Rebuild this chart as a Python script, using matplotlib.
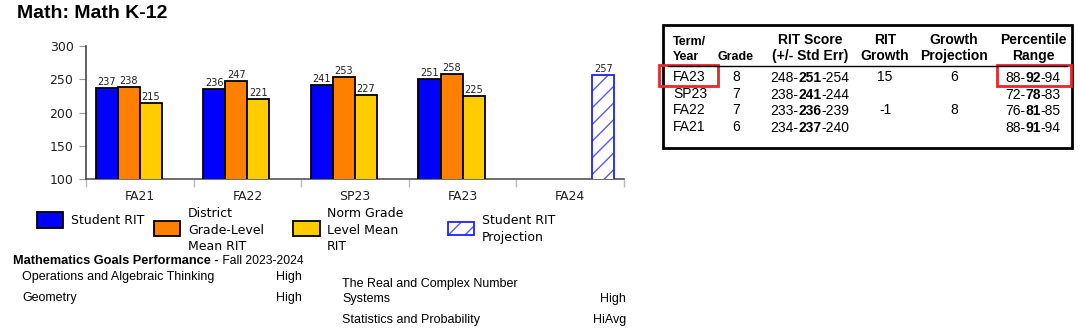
import numpy as np
import matplotlib
matplotlib.use('Agg')
from matplotlib import pyplot as plt
from matplotlib.patches import Rectangle
from matplotlib.lines import Line2D

# chart data
terms = ['FA21', 'FA22', 'SP23', 'FA23', 'FA24']
student_rit = [237, 236, 241, 251, np.nan]
district_mean = [238, 247, 253, 258, np.nan]
norm_mean = [215, 221, 227, 225, np.nan]
projection = [np.nan, np.nan, np.nan, np.nan, 257]

# table data
tbl_terms = ['FA23', 'SP23', 'FA22', 'FA21']
tbl_grades = ['8', '7', '7', '6']
rit_lo = [248, 238, 233, 234]
rit_mid = [251, 241, 236, 237]
rit_hi = [254, 244, 239, 240]
rit_growth = ['15', '', '-1', '']
growth_proj = ['6', '', '8', '']
pct_lo = [88, 72, 76, 88]
pct_mid = [92, 78, 81, 91]
pct_hi = [94, 83, 85, 94]

# goals
goals_left = ['Operations and Algebraic Thinking', 'Geometry']
levels_left = ['High', 'High']
goals_right = ['The Real and Complex Number\nSystems', 'Statistics and Probability']
levels_right = ['High', 'HiAvg']

W, H = 1080, 336
fig = plt.figure(figsize=(W / 100, H / 100), dpi=100)
plt.rcParams['hatch.linewidth'] = 1.0

def px(x, y):
    return x / W, 1 - y / H

ARIAL = 'Liberation Sans'
DV = 'DejaVu Sans'
PROJ_EDGE = '#2020ff'
PROJ_HATCH = '#5a5aff'

fig.text(*px(17, 13), 'Math: Math K-12', fontsize=14, fontweight='bold',
         family=ARIAL, va='center', ha='left')

# --- bar chart
ax = fig.add_axes([86 / W, 1 - 179 / H, (624 - 86) / W, (179 - 46) / H])
x = np.arange(len(terms))
w = 0.205
colors = ['#0000ff', '#ff8000', '#ffcc00']
series = [student_rit, district_mean, norm_mean]
for k, (vals, c) in enumerate(zip(series, colors)):
    pos = x + (k - 1.5) * w
    ax.bar(pos, vals, w, color=c, edgecolor='black', linewidth=1.3, zorder=3)
    for p, v in zip(pos, vals):
        if not np.isnan(v):
            ax.text(p, v + 1.5, str(int(v)), ha='center', va='bottom', fontsize=7,
                    family=DV, color='#222222')

# projection: hatch layer then a clean blue outline on top
pos = x + 1.5 * w
ax.bar(pos, projection, w, color='white', edgecolor=PROJ_HATCH, hatch='//',
       linewidth=0, zorder=3)
ax.bar(pos, projection, w, color='none', edgecolor=PROJ_EDGE, linewidth=1.3, zorder=4)
for p, v in zip(pos, projection):
    if not np.isnan(v):
        ax.text(p, v + 1.5, str(int(v)), ha='center', va='bottom', fontsize=7,
                family=DV, color='#222222')

ax.set_xlim(-0.5, len(terms) - 0.5)
ax.set_ylim(100, 300)
ax.set_yticks([100, 150, 200, 250, 300])
ax.set_xticks(x)
ax.set_xticklabels(terms)
ax.set_xticks(np.arange(len(terms) + 1) - 0.5, minor=True)
ax.tick_params(axis='x', which='major', length=0, pad=8, labelsize=9)
ax.tick_params(axis='x', which='minor', length=6, color='#bbbbbb', width=1)
ax.tick_params(axis='y', length=5, color='#999999', labelsize=9, pad=4)
for lab in ax.get_xticklabels() + ax.get_yticklabels():
    lab.set_family(DV)
    lab.set_color('#222222')
ax.spines['top'].set_visible(False)
ax.spines['right'].set_visible(False)
ax.spines['left'].set_color('#444444')
ax.spines['bottom'].set_color('#555555')
ax.spines['left'].set_linewidth(1.2)
ax.spines['bottom'].set_linewidth(1.2)

# --- legend
def legend_patch(x0, y0, x1, y1, fc, ec, hatch=None, lw=1.3):
    fig.patches.append(Rectangle(px(x0, y1), (x1 - x0) / W, (y1 - y0) / H,
                                 transform=fig.transFigure, facecolor=fc, edgecolor=ec,
                                 linewidth=lw, hatch=hatch))

legend_patch(37, 212, 63, 228, colors[0], 'black')
fig.text(*px(71, 220), 'Student RIT', fontsize=9, family=DV, va='center')
legend_patch(154, 221, 180, 236, colors[1], 'black')
fig.text(*px(188, 230), 'District\nGrade-Level\nMean RIT', fontsize=9, family=DV,
         va='center', linespacing=1.38)
legend_patch(293, 221, 320, 236, colors[2], 'black')
fig.text(*px(327, 230), 'Norm Grade\nLevel Mean\nRIT', fontsize=9, family=DV,
         va='center', linespacing=1.38)
legend_patch(448, 222, 474, 235, 'white', PROJ_HATCH, hatch='//', lw=0)
legend_patch(448, 222, 474, 235, 'none', PROJ_EDGE)
fig.text(*px(482, 229), 'Student RIT\nProjection', fontsize=9, family=DV,
         va='center', linespacing=1.38)

# --- goals
hdr = fig.text(*px(13, 261), 'Mathematics Goals Performance -', fontsize=9.2,
               fontweight='bold', family=ARIAL, va='center')
ax.annotate(' Fall 2023-2024', xy=(1, 0), xycoords=hdr, fontsize=8.7, family=ARIAL,
            va='bottom', ha='left', annotation_clip=False)
for i, (g, lv) in enumerate(zip(goals_left, levels_left)):
    yy = 277 + i * 20.5
    fig.text(*px(22, yy), g, fontsize=9, family=ARIAL, va='center')
    fig.text(*px(302, yy), lv, fontsize=9, family=ARIAL, va='center', ha='right')
right_y = [[284, 299], [320]]
for i, (g, lv) in enumerate(zip(goals_right, levels_right)):
    ys = right_y[i]
    for ln, yy in zip(g.split('\n'), ys):
        fig.text(*px(342, yy), ln, fontsize=9, family=ARIAL, va='center')
    fig.text(*px(626, ys[-1]), lv, fontsize=9, family=ARIAL, va='center', ha='right')

# --- table
fig.patches.append(Rectangle(px(663, 148), (1072 - 663) / W, (148 - 25) / H,
                             transform=fig.transFigure, facecolor='none',
                             edgecolor='black', linewidth=2))
fig.lines.append(Line2D([668 / W, 1067 / W], [1 - 66 / H] * 2, transform=fig.transFigure,
                        color='black', linewidth=1))

fig.text(*px(673, 42), 'Term/', fontsize=9, fontweight='bold', family=ARIAL, va='center')
fig.text(*px(673, 57), 'Year', fontsize=9, fontweight='bold', family=ARIAL, va='center')
fig.text(*px(736, 57), 'Grade', fontsize=9, fontweight='bold', family=ARIAL,
         va='center', ha='center')
col_x = [810, 885, 954, 1033]
heads = [('RIT Score', '(+/- Std Err)'), ('RIT', 'Growth'),
         ('Growth', 'Projection'), ('Percentile', 'Range')]
for cx, (h1, h2) in zip(col_x, heads):
    fig.text(*px(cx, 40), h1, fontsize=10, fontweight='bold', family=ARIAL,
             va='center', ha='center')
    fig.text(*px(cx, 56), h2, fontsize=10, fontweight='bold', family=ARIAL,
             va='center', ha='center')

def split_val(cx, yy, lo, mid, hi):
    m = fig.text(*px(cx, yy), str(mid), fontsize=10, fontweight='bold', family=ARIAL,
                 va='baseline', ha='center')
    ax.annotate(f'{lo}-', xy=(0, 0), xycoords=m, fontsize=10, family=ARIAL,
                va='bottom', ha='right', annotation_clip=False)
    ax.annotate(f'-{hi}', xy=(1, 0), xycoords=m, fontsize=10, family=ARIAL,
                va='bottom', ha='left', annotation_clip=False)

for i in range(len(tbl_terms)):
    yy = 77 + i * 16.7
    base = yy + 5
    fig.text(*px(673, yy), tbl_terms[i], fontsize=10, family=ARIAL, va='center')
    fig.text(*px(736, yy), tbl_grades[i], fontsize=10, family=ARIAL, va='center', ha='center')
    split_val(col_x[0], base, rit_lo[i], rit_mid[i], rit_hi[i])
    fig.text(*px(col_x[1], yy), rit_growth[i], fontsize=10, family=ARIAL, va='center', ha='center')
    fig.text(*px(col_x[2], yy), growth_proj[i], fontsize=10, family=ARIAL, va='center', ha='center')
    split_val(col_x[3], base, pct_lo[i], pct_mid[i], pct_hi[i])

# red highlight boxes
for x0, x1 in [(659, 718), (997, 1071)]:
    fig.patches.append(Rectangle(px(x0, 86), (x1 - x0) / W, (86 - 65) / H,
                                 transform=fig.transFigure, facecolor='none',
                                 edgecolor='#e8262c', linewidth=2))

fig.savefig('out.png', dpi=100)
